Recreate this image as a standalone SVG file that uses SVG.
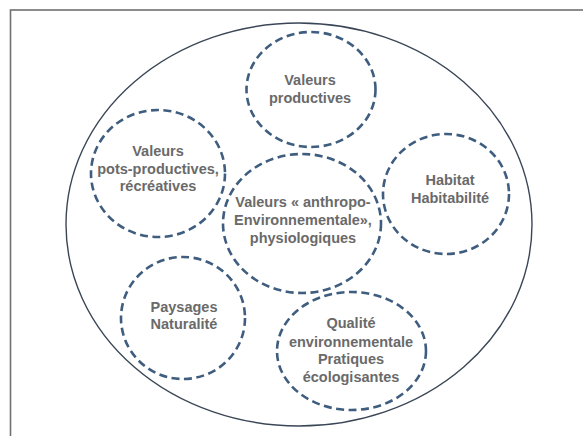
<svg xmlns="http://www.w3.org/2000/svg" width="583" height="436" viewBox="0 0 583 436">
<style>
.dash{fill:none;stroke:#3f5d7e;stroke-width:2.6;stroke-dasharray:8 4.5}
.lbl{font-family:"Liberation Sans",Arial,sans-serif;font-weight:bold;font-size:14.5px;fill:#6a6a6a;text-anchor:middle}
</style>
<rect x="0" y="0" width="583" height="436" fill="#ffffff"/>
<rect x="10.5" y="10" width="580" height="440" fill="none" stroke="#707070" stroke-width="1.6"/>
<g id="outer"><ellipse cx="299" cy="224.5" rx="233" ry="201.5" fill="none" stroke="#3a4656" stroke-width="1.4"/></g>
<g id="productives">
<ellipse class="dash" cx="311" cy="89.5" rx="64.5" ry="57.5"/>
<text class="lbl" x="310" y="85">Valeurs</text>
<text class="lbl" x="310" y="103">productives</text>
</g>
<g id="postproductives">
<ellipse class="dash" cx="158" cy="173.5" rx="67" ry="63.5"/>
<text class="lbl" x="158" y="156">Valeurs</text>
<text class="lbl" x="158" y="174">pots-productives,</text>
<text class="lbl" x="158" y="191">récréatives</text>
</g>
<g id="central">
<ellipse class="dash" cx="302" cy="223.5" rx="79" ry="69.5"/>
<text class="lbl" x="303" y="207">Valeurs « anthropo-</text>
<text class="lbl" x="303" y="225">Environnementale»,</text>
<text class="lbl" x="303" y="243">physiologiques</text>
</g>
<g id="habitat">
<ellipse class="dash" cx="446" cy="194" rx="63" ry="60"/>
<text class="lbl" x="450" y="185">Habitat</text>
<text class="lbl" x="450" y="203">Habitabilité</text>
</g>
<g id="paysages">
<ellipse class="dash" cx="183" cy="318" rx="62" ry="61"/>
<text class="lbl" x="184" y="312">Paysages</text>
<text class="lbl" x="184" y="329">Naturalité</text>
</g>
<g id="qualite">
<ellipse class="dash" cx="351.5" cy="351" rx="74.5" ry="59"/>
<text class="lbl" x="351" y="328">Qualité</text>
<text class="lbl" x="351" y="347">environnementale</text>
<text class="lbl" x="351" y="364">Pratiques</text>
<text class="lbl" x="351" y="382">écologisantes</text>
</g>
<g id="connectors"></g>
</svg>
